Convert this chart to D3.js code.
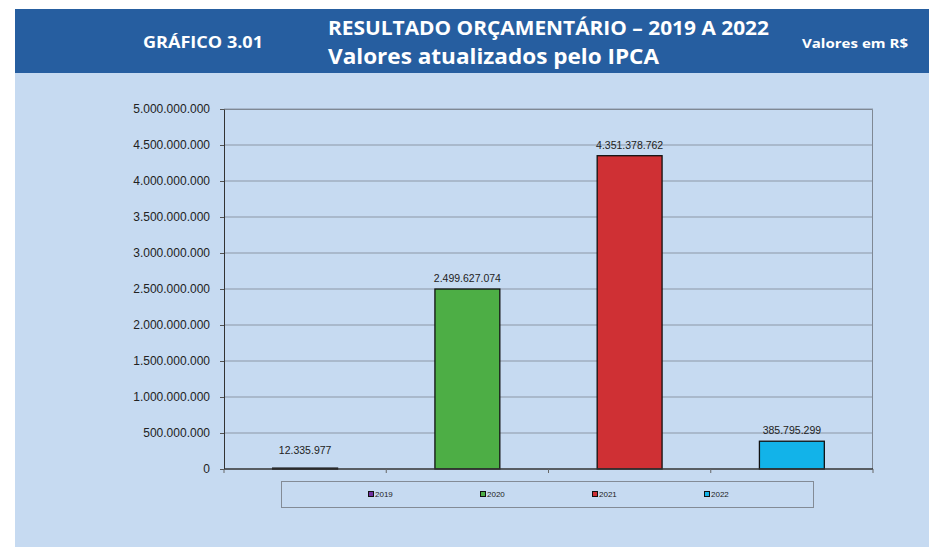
<!DOCTYPE html>
<html>
<head>
<meta charset="utf-8">
<script src="https://cdn.jsdelivr.net/npm/d3@7"></script>
<style>
  body { margin: 0; background: #fff; }
  text { font-family: "Liberation Sans", Arial, sans-serif; }
  .hdr { font-family: "Open Sans", "Noto Sans", sans-serif; font-weight: 700; fill: #fff; }
</style>
</head>
<body>
<div id="chart"></div>
<script>
// data
var years = ["2019", "2020", "2021", "2022"];
var resultado = [12335977, 2499627074, 4351378762, 385795299];
var barColors = ["#7030A0", "#4DAE45", "#CF3034", "#12B3E9"];
var yTicks = [0, 500000000, 1000000000, 1500000000, 2000000000, 2500000000,
              3000000000, 3500000000, 4000000000, 4500000000, 5000000000];

var width = 929, height = 547;
var svg = d3.select("#chart").append("svg")
  .attr("width", width)
  .attr("height", height);

// panels
svg.append("rect").attr("x", 15).attr("y", 73).attr("width", width - 15).attr("height", height - 73)
  .attr("fill", "#C6DAF1");
svg.append("rect").attr("x", 15).attr("y", 9).attr("width", width - 15).attr("height", 64)
  .attr("fill", "#265EA0");

// header texts
svg.append("text").attr("class", "hdr").attr("x", 143).attr("y", 48)
  .attr("font-size", 16).attr("textLength", 120).attr("lengthAdjust", "spacingAndGlyphs")
  .text("GRÁFICO 3.01");
svg.append("text").attr("class", "hdr").attr("x", 328).attr("y", 35)
  .attr("font-size", 20).attr("textLength", 441).attr("lengthAdjust", "spacingAndGlyphs")
  .text("RESULTADO ORÇAMENTÁRIO – 2019 A 2022");
svg.append("text").attr("class", "hdr").attr("x", 328).attr("y", 64)
  .attr("font-size", 21.5).attr("textLength", 331).attr("lengthAdjust", "spacingAndGlyphs")
  .text("Valores atualizados pelo IPCA");
svg.append("text").attr("class", "hdr").attr("x", 802).attr("y", 47.5)
  .attr("font-size", 13).attr("textLength", 106).attr("lengthAdjust", "spacingAndGlyphs")
  .text("Valores em R$");

// plot area
var plot = { left: 224, top: 109, right: 873, bottom: 469 };
var pw = plot.right - plot.left, ph = plot.bottom - plot.top;

var br = d3.formatLocale({ decimal: ",", thousands: ".", grouping: [3], currency: ["R$ ", ""] });
var fmt = br.format(",d");

var x = d3.scaleBand().domain(years).range([0, pw]).paddingInner(0.6).paddingOuter(0.3);
var y = d3.scaleLinear().domain([0, 5000000000]).range([ph, 0]);

var g = svg.append("g").attr("transform", `translate(${plot.left}, ${plot.top})`);

// gridlines
g.append("g").selectAll("line")
  .data(yTicks.filter(d => d > 0))
  .enter().append("line")
  .attr("x1", 0).attr("x2", pw)
  .attr("y1", d => y(d)).attr("y2", d => y(d))
  .attr("stroke", "#8C97A6").attr("stroke-width", 1);

// frame (top/right)
g.append("path")
  .attr("d", `M0,0.5H${pw - 0.5}V${ph}`)
  .attr("fill", "none").attr("stroke", "#7F8894");

// y axis
var yAxis = g.append("g")
  .call(d3.axisLeft(y).tickValues(yTicks).tickFormat(fmt).tickSize(4).tickSizeOuter(0).tickPadding(10));
yAxis.select(".domain").attr("stroke", "#333");
yAxis.selectAll(".tick line").attr("stroke", "#555");
yAxis.selectAll("text").attr("font-size", 12).attr("fill", "#222")
  .attr("font-family", "'Liberation Sans', Arial, sans-serif");

// bars
g.append("g").selectAll("rect")
  .data(resultado)
  .enter().append("rect")
  .attr("x", (d, i) => x(years[i]))
  .attr("y", d => y(d))
  .attr("width", x.bandwidth())
  .attr("height", d => Math.max(1, ph - y(d)))
  .attr("fill", (d, i) => barColors[i])
  .attr("stroke", "#111").attr("stroke-width", 1.3);

// x axis (bottom line + ticks at category boundaries)
var step = pw / years.length;
g.append("line").attr("x1", 0).attr("x2", pw).attr("y1", ph).attr("y2", ph)
  .attr("stroke", "#333").attr("stroke-width", 1.3);
g.append("g").selectAll("line")
  .data(d3.range(years.length + 1))
  .enter().append("line")
  .attr("x1", i => i * step).attr("x2", i => i * step)
  .attr("y1", ph).attr("y2", ph + 4)
  .attr("stroke", "#666");

// value labels
g.append("g").selectAll("text")
  .data(resultado)
  .enter().append("text")
  .attr("x", (d, i) => x(years[i]) + x.bandwidth() / 2)
  .attr("y", d => Math.min(y(d) - 7, ph - 15))
  .attr("text-anchor", "middle")
  .attr("font-size", 10.5).attr("fill", "#222")
  .text(d => fmt(d));

// legend
var leg = svg.append("g");
leg.append("rect").attr("x", 281.5).attr("y", 481.5).attr("width", 532).attr("height", 26)
  .attr("fill", "none").attr("stroke", "#838B96");
var items = leg.selectAll("g.item")
  .data(years)
  .enter().append("g")
  .attr("class", "item")
  .attr("transform", (d, i) => `translate(${368 + i * 112}, 494)`);
items.append("rect").attr("x", 0.5).attr("y", -2.5).attr("width", 5).attr("height", 5)
  .attr("fill", (d, i) => barColors[i]).attr("stroke", "#111");
items.append("text").attr("x", 7).attr("y", 3)
  .attr("font-size", 8).attr("fill", "#222")
  .text(d => d);
</script>
</body>
</html>
